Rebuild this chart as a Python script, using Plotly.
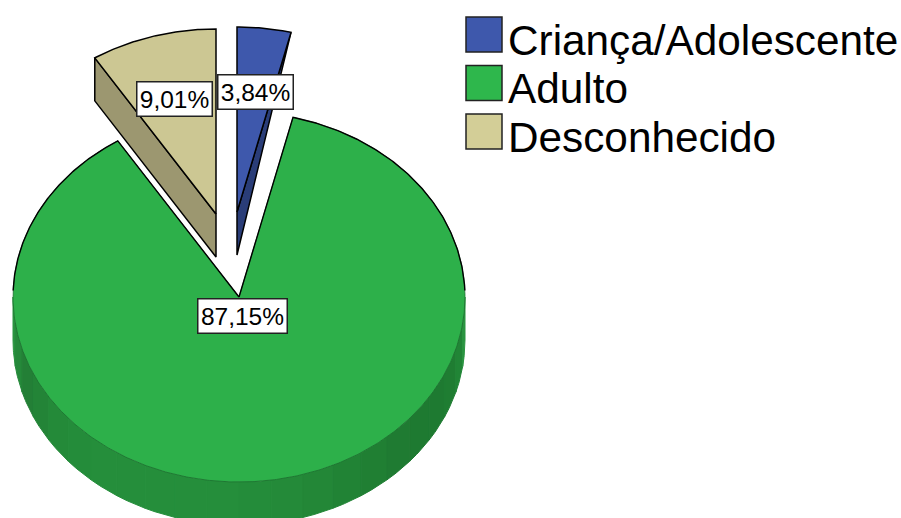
import numpy as np
import plotly.graph_objects as go

# dados
categorias = ['Criança/Adolescente', 'Adulto', 'Desconhecido']
valores = [3.84, 87.15, 9.01]
rotulos = ['3,84%', '87,15%', '9,01%']

# estilo
cor_topo = ['#3E58AC', '#2DB04A', '#CCC793']
cor_lado = ['#2A3D78', '#258E3B', '#9C9770']
cor_legenda = ['#3E58AC', '#2EB74C', '#D3CE97']
faixas_lado = ['#2A9440', '#25893A', '#237F36', '#238437', '#248A39', '#248C3A',
               '#258E3B', '#258E3B', '#258E3B', '#258E3B', '#258E3B', '#248C3A',
               '#248A39', '#238737', '#218335', '#207F33', '#1F7B32', '#1E7A31',
               '#1E7A31', '#1F7D32', '#218536', '#2A9440']
deslocamento = [(-2, -85), (0, 0), (-23, -83)]
pos_rotulo = [(255, 91.5), (242, 315.5), (174.5, 98.5)]
CX, CY, RX, RY, PROF = 239, 297, 226, 185, 43


def arco(a0, a1, dx=0, dy=0, desce=0):
    # angulo em graus, horario a partir do topo
    t = np.radians(np.linspace(a0, a1, max(int(abs(a1 - a0)) * 2, 2)))
    return CX + dx + RX * np.sin(t), CY + dy - RY * np.cos(t) + desce


fig = go.Figure()


def poligono(x, y, cor, linha='#000000', largura=1.5):
    fig.add_trace(go.Scatter(
        x=list(x), y=list(y), mode='lines', fill='toself', fillcolor=cor,
        line=dict(color=linha, width=largura), hoverinfo='skip', showlegend=False))


def contorno(x, y, cor='#000000', largura=1.4):
    fig.add_trace(go.Scatter(x=list(x), y=list(y), mode='lines',
                             line=dict(color=cor, width=largura), hoverinfo='skip', showlegend=False))


# inicio/fim de cada fatia
fim = np.cumsum(valores) * 3.6
inicio = np.concatenate(([0], fim[:-1]))

# lateral do adulto, em faixas para o sombreado
limites = np.linspace(270, 90, len(faixas_lado) + 1)
for i, cor in enumerate(faixas_lado):
    xs, ys = arco(limites[i], limites[i + 1])
    xi, yi = arco(limites[i + 1], limites[i], desce=PROF)
    poligono(np.r_[xs, xi, xs[0]], np.r_[ys, yi, ys[0]], cor, linha=cor, largura=1)

# topo do adulto: contorno fino embaixo, preto em cima
xs, ys = arco(inicio[1], fim[1])
poligono(np.r_[CX, xs, CX], np.r_[CY, ys, CY], cor_topo[1], linha='#1C6E2E', largura=0.8)
xs, ys = arco(inicio[1], 88)
contorno(np.r_[CX, xs], np.r_[CY, ys])
xs, ys = arco(272, fim[1])
contorno(np.r_[xs, CX], np.r_[ys, CY])

# lateral e topo do desconhecido
dx, dy = deslocamento[2]
xs, ys = arco(inicio[2], fim[2], dx, dy)
poligono([xs[0], CX + dx, CX + dx, xs[0], xs[0]],
         [ys[0], CY + dy, CY + dy + PROF, ys[0] + PROF, ys[0]], cor_lado[2])
poligono(np.r_[CX + dx, xs, CX + dx], np.r_[CY + dy, ys, CY + dy], cor_topo[2])

# lateral e topo da crianca/adolescente
dx, dy = deslocamento[0]
xs, ys = arco(inicio[0], fim[0], dx, dy)
poligono([xs[-1], CX + dx, CX + dx, xs[-1]], [ys[-1], CY + dy, CY + dy + PROF, ys[-1]], cor_lado[0])
poligono(np.r_[CX + dx, xs, CX + dx], np.r_[CY + dy, ys, CY + dy], cor_topo[0])

# rotulos
for texto, (px_, py_) in zip(rotulos, pos_rotulo):
    fig.add_annotation(x=px_, y=py_, text=texto, showarrow=False, xref='x', yref='y',
                       font=dict(family='Liberation Sans', size=24.5, color='#000000'),
                       bgcolor='#FFFFFF', bordercolor='#222222', borderwidth=1.5, borderpad=0,
                       width=len(texto) * 14 + 4, height=33, align='center', valign='middle')

# legenda
for i, nome in enumerate(categorias):
    topo = 17 + i * 48.5
    fig.add_shape(type='rect', x0=466, x1=502, y0=topo, y1=topo + 35, xref='x', yref='y',
                  fillcolor=cor_legenda[i], line=dict(color='#222222', width=1.5))
    fig.add_annotation(x=506, y=topo + 23, text=nome, showarrow=False, xref='x', yref='y',
                       xanchor='left', yanchor='middle',
                       font=dict(family='Liberation Sans', size=42.3, color='#000000'))

fig.update_xaxes(range=[0, 901], visible=False, fixedrange=True)
fig.update_yaxes(range=[518, 0], visible=False, fixedrange=True)
fig.update_layout(width=901, height=518, margin=dict(l=0, r=0, t=0, b=0),
                  paper_bgcolor='#FFFFFF', plot_bgcolor='#FFFFFF', showlegend=False)

# tira a margem padrao do body para a figura ocupar a janela toda
fig.write_html("out.html", config={'displayModeBar': False},
               post_script="document.body.style.margin='0';")
